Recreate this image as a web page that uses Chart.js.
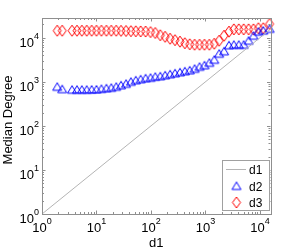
<!DOCTYPE html>
<html>
<head>
<meta charset="utf-8">
<script src="https://cdn.jsdelivr.net/npm/chart.js@4.4.1/dist/chart.umd.min.js"></script>
<style>
  body { margin: 0; background: #fff; }
  #wrap { width: 299px; height: 250px; }
</style>
</head>
<body>
<div id="wrap"><canvas id="degChart" width="299" height="250"></canvas></div>
<script>
// d1 bins (log spaced)
const xValues = [1.9, 2.35, 3.56, 4.38, 5.38, 6.62, 8.15, 10, 12.3, 15.2, 18.7, 23, 28.2, 34.8, 42.8,
  52.6, 64.7, 79.6, 98, 120, 148, 182, 224, 276, 340, 418, 514, 632, 778, 957, 1178, 1449,
  1782, 2193, 2698, 3319, 4083, 5023, 6180, 7603, 9354, 11508, 15000];
const d2Values = [770, 680, 660, 660, 660, 660, 665, 670, 690, 711, 731, 770, 832, 901, 1000,
  1081, 1140, 1200, 1231, 1300, 1334, 1406, 1480, 1560, 1643, 1730, 1820, 1973, 2190, 2370, 2700, 3160,
  4330, 4920, 6740, 6920, 6920, 6920, 8550, 11100, 13700, 14500, 15900];
const d3Values = [14400, 14400, 14400, 14400, 14400, 14400, 14400, 14400, 14400, 14400, 14400, 14400, 14300, 14200, 14100,
  14000, 13900, 13800, 13400, 12800, 11400, 10500, 9500, 8800, 8130, 7500, 7100, 6940, 6940, 6940, 6940, 7300,
  8550, 11100, 13700, 15500, 15500, 15500, 15500, 15500, 16400, 16400, 20500];
const d1Line = [1, 15600];   // y = x reference line
const xRange = [1, 15600];
const yRange = [1, 28000];
const tickExps = [0, 1, 2, 3, 4];
const seriesNames = ['d1', 'd2', 'd3'];

const FONT = "'Liberation Sans', Arial, sans-serif";
const AXIS_COL = '#8f8f8f';

function makeMarker(kind, color) {
  const c = document.createElement('canvas');
  c.width = 12; c.height = 13;
  const g = c.getContext('2d');
  g.strokeStyle = color;
  g.lineWidth = 1;
  g.beginPath();
  if (kind === 'diamond') {
    g.moveTo(6, 1); g.lineTo(10, 6.5); g.lineTo(6, 12); g.lineTo(2, 6.5);
  } else {
    g.moveTo(6, 2.5); g.lineTo(10.5, 10); g.lineTo(1.5, 10);
  }
  g.closePath();
  g.stroke();
  return c;
}
const triMark = makeMarker('tri', '#0000ff');
const diaMark = makeMarker('diamond', '#ff0000');

function drawPow(ctx, exp, x, y, align) {
  ctx.font = '13px ' + FONT;
  const wBase = ctx.measureText('10').width;
  ctx.font = '9px ' + FONT;
  const wExp = ctx.measureText(String(exp)).width;
  let x0 = align === 'center' ? x - (wBase + wExp) / 2 : x - wBase - wExp;
  ctx.textAlign = 'left';
  ctx.textBaseline = 'alphabetic';
  ctx.font = '13px ' + FONT;
  ctx.fillText('10', x0, y);
  ctx.font = '9px ' + FONT;
  ctx.fillText(String(exp), x0 + wBase, y - 8);
}

// Matlab style box, inward ticks, labels, legend
const axesBox = {
  id: 'axesBox',
  afterDraw(chart) {
    const { ctx, chartArea: a, scales: { x, y } } = chart;
    ctx.save();
    ctx.strokeStyle = AXIS_COL;
    ctx.lineWidth = 1;
    ctx.strokeRect(Math.round(a.left) + 0.5, Math.round(a.top) + 0.5,
      Math.round(a.right - a.left), Math.round(a.bottom - a.top));

    ctx.beginPath();
    tickExps.forEach(e => {
      for (let m = 1; m <= 9; m++) {
        const v = m * Math.pow(10, e);
        const len = m === 1 ? 3.5 : 2;
        if (v >= xRange[0] && v <= xRange[1]) {
          const px = Math.round(x.getPixelForValue(v)) + 0.5;
          ctx.moveTo(px, a.bottom); ctx.lineTo(px, a.bottom - len);
          ctx.moveTo(px, a.top); ctx.lineTo(px, a.top + len);
        }
        if (v >= yRange[0] && v <= yRange[1]) {
          const py = Math.round(y.getPixelForValue(v)) + 0.5;
          ctx.moveTo(a.left, py); ctx.lineTo(a.left + len, py);
          ctx.moveTo(a.right, py); ctx.lineTo(a.right - len, py);
        }
      }
    });
    ctx.stroke();

    ctx.fillStyle = '#000';
    tickExps.forEach(e => {
      const v = Math.pow(10, e);
      drawPow(ctx, e, x.getPixelForValue(v), a.bottom + 18, 'center');
      drawPow(ctx, e, a.left - 3, y.getPixelForValue(v) + 9, 'right');
    });

    ctx.font = '13px ' + FONT;
    ctx.textAlign = 'center';
    ctx.textBaseline = 'middle';
    ctx.fillText('d1', (a.left + a.right) / 2, 243);
    ctx.save();
    ctx.translate(8.5, 120);
    ctx.rotate(-Math.PI / 2);
    ctx.fillText('Median Degree', 0, 0);
    ctx.restore();

    // legend
    const lx = 222.5, ly = 160.5, lw = 47, lh = 50;
    ctx.fillStyle = '#fff';
    ctx.fillRect(lx, ly, lw, lh);
    ctx.strokeStyle = '#a0a0a0';
    ctx.strokeRect(lx, ly, lw, lh);
    const rows = [169.5, 186, 202.5];
    ctx.strokeStyle = '#b4b4b4';
    ctx.beginPath();
    ctx.moveTo(226, rows[0]); ctx.lineTo(246, rows[0]);
    ctx.stroke();
    ctx.drawImage(triMark, 236.5 - 6, rows[1] - 6.5);
    ctx.drawImage(diaMark, 236.5 - 6, rows[2] - 6.5);
    ctx.fillStyle = '#000';
    ctx.font = '12px ' + FONT;
    ctx.textAlign = 'left';
    ctx.textBaseline = 'alphabetic';
    seriesNames.forEach((n, i) => ctx.fillText(n, 249, rows[i] + 4.5));
    ctx.restore();
  }
};

const ctx = document.getElementById('degChart').getContext('2d');
new Chart(ctx, {
  type: 'scatter',
  data: {
    datasets: [
      {
        label: seriesNames[0],
        data: d1Line.map(v => ({ x: v, y: v })),
        showLine: true,
        borderColor: '#b4b4b4',
        borderWidth: 1,
        pointRadius: 0
      },
      {
        label: seriesNames[1],
        data: xValues.map((v, i) => ({ x: v, y: d2Values[i] })),
        pointStyle: triMark,
        clip: false
      },
      {
        label: seriesNames[2],
        data: xValues.map((v, i) => ({ x: v, y: d3Values[i] })),
        pointStyle: diaMark,
        clip: false
      }
    ]
  },
  options: {
    responsive: false,
    animation: false,
    devicePixelRatio: 1,
    layout: { padding: { left: 42, right: 28.5, top: 18, bottom: 36 } },
    plugins: { legend: { display: false }, tooltip: { enabled: false } },
    scales: {
      x: { type: 'logarithmic', min: xRange[0], max: xRange[1], display: false },
      y: { type: 'logarithmic', min: yRange[0], max: yRange[1], display: false }
    }
  },
  plugins: [axesBox]
});
</script>
</body>
</html>
